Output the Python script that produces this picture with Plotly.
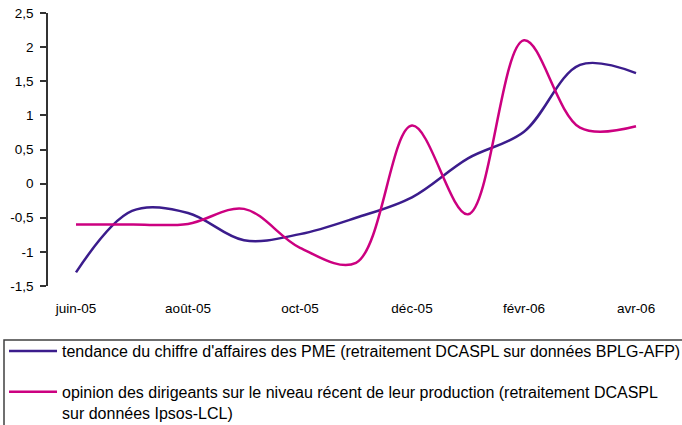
import plotly.graph_objects as go

months = ["juin-05", "juil-05", "août-05", "sept-05", "oct-05", "nov-05",
          "déc-05", "janv-06", "févr-06", "mars-06", "avr-06"]
shown_months = ["juin-05", "août-05", "oct-05", "déc-05", "févr-06", "avr-06"]

ca_pme = [-1.30, -0.40, -0.43, -0.83, -0.74, -0.50, -0.20, 0.37, 0.76, 1.74, 1.62]
opinion = [-0.60, -0.60, -0.59, -0.37, -0.94, -1.16, 0.85, -0.45, 2.10, 0.82, 0.84]

y_ticks = [-1.5, -1, -0.5, 0, 0.5, 1, 1.5, 2, 2.5]
y_ticktext = ["-1,5", "-1", "-0,5", "0", "0,5", "1", "1,5", "2", "2,5"]

name_ca = "tendance du chiffre d'affaires des PME (retraitement DCASPL sur données BPLG-AFP)"
name_op = "opinion des dirigeants sur le niveau récent de leur production (retraitement DCASPL<br>sur données Ipsos-LCL)"

PURPLE = "#3B1C8C"
PINK = "#CC0080"
FONT = "Liberation Sans, Arial, sans-serif"

fig = go.Figure()
fig.add_trace(go.Scatter(
    x=months, y=ca_pme, mode="lines", name=name_ca, legendgroup="a",
    line=dict(color=PURPLE, width=2.5, shape="spline", smoothing=1.0),
))
fig.add_trace(go.Scatter(
    x=months, y=opinion, mode="lines", name=name_op, legendgroup="b",
    line=dict(color=PINK, width=2.5, shape="spline", smoothing=1.0),
))

# legend frame (box starts at x=4px, y=340px and runs past the page edge)
fig.add_shape(
    type="rect", xref="paper", yref="paper",
    x0=-44 / 616, x1=700 / 616, y0=-160 / 273, y1=-54 / 273,
    line=dict(color="#404040", width=1.5), fillcolor="rgba(0,0,0,0)",
    layer="above",
)

fig.update_layout(
    width=682, height=425,
    margin=dict(l=48, r=18, t=13, b=139, autoexpand=False),
    paper_bgcolor="white", plot_bgcolor="white",
    font=dict(family=FONT, size=13.5, color="black"),
    showlegend=True,
    legend=dict(
        x=-0.0714, xanchor="left", y=-48 / 273, yanchor="top",
        borderwidth=0,
        font=dict(family=FONT, size=16, color="black"),
        traceorder="grouped", tracegroupgap=17, valign="top",
        itemwidth=48, bgcolor="rgba(0,0,0,0)",
    ),
)
fig.update_xaxes(
    type="category", categoryorder="array", categoryarray=months,
    range=[-0.5, 10.5], tickmode="array", tickvals=shown_months,
    ticktext=shown_months, showline=False, showgrid=False, zeroline=False,
    ticks="outside", ticklen=10, tickcolor="rgba(0,0,0,0)",
    tickfont=dict(family=FONT, size=13.5, color="black"),
)
fig.update_yaxes(
    range=[-1.5, 2.5], tickmode="array", tickvals=y_ticks, ticktext=y_ticktext,
    showline=True, linecolor="#333333", linewidth=1.5,
    ticks="outside", ticklen=6, tickcolor="#333333", tickwidth=1.5,
    ticklabelstandoff=4,
    showgrid=False, zeroline=False,
    tickfont=dict(family=FONT, size=13.5, color="black"),
)

fig.write_html("out.html", config={"displayModeBar": False},
               post_script="document.body.style.margin='0';")
